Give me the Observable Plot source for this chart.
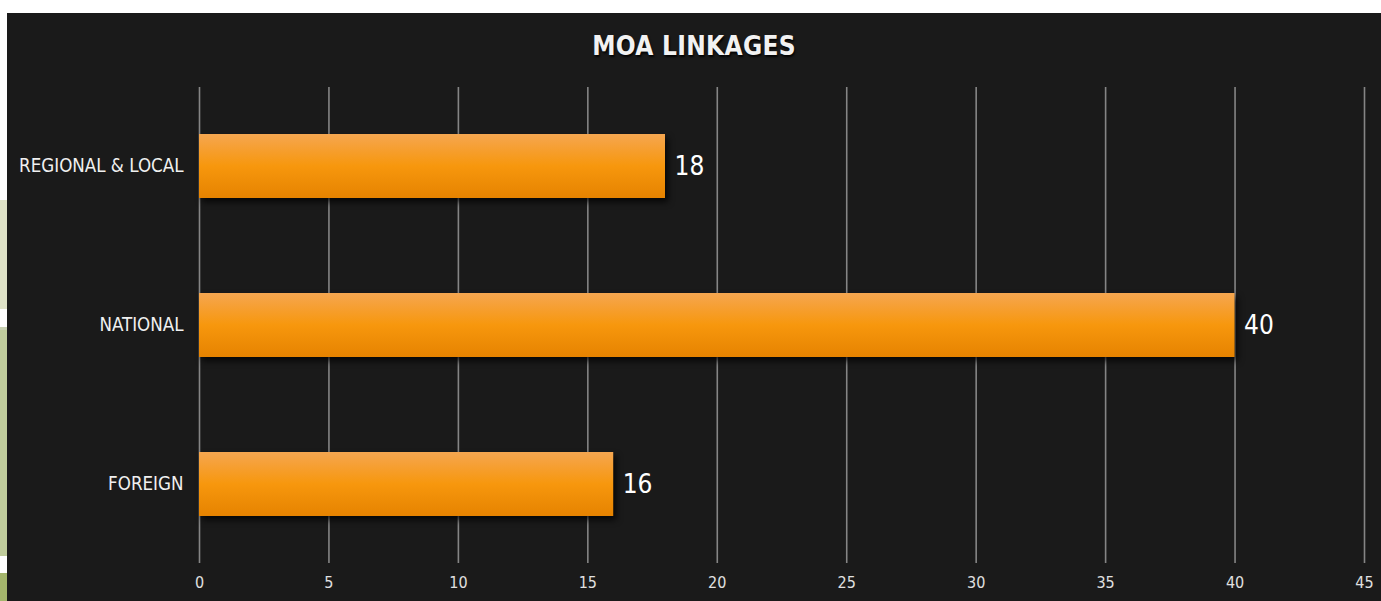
<!DOCTYPE html>
<html>
<head>
<meta charset="utf-8">
<script src="https://cdn.jsdelivr.net/npm/d3@7"></script>
<script src="https://cdn.jsdelivr.net/npm/@observablehq/plot@0.6"></script>
<style>
  html, body { margin: 0; padding: 0; background: #ffffff; width: 1381px; height: 601px; overflow: hidden; }
  .strip { position: absolute; left: 0; width: 7px; }
  #panel { position: absolute; left: 7px; top: 13px; width: 1374px; height: 588px; background: #1a1a1a; }
  #title { height: 60px; line-height: 66px; text-align: center; color: #f2f2f2;
           font-family: "Liberation Sans Narrow", "DejaVu Sans Condensed", sans-serif;
           font-weight: bold; font-size: 26px; letter-spacing: 0.3px;
           text-shadow: 1px 2px 2px rgba(0,0,0,0.9); }
  #chart svg { display: block; }
</style>
</head>
<body>
<div class="strip" style="top:200px;height:109px;background:#dfe3c8"></div>
<div class="strip" style="top:327px;height:3px;background:#c9d1b2"></div>
<div class="strip" style="top:330px;height:226px;background:#c0cc9c"></div>
<div class="strip" style="top:573px;height:28px;background:#a4b56c"></div>
<div id="panel">
  <div id="title">MOA LINKAGES</div>
  <div id="chart"></div>
</div>
<script>
const categories = ["REGIONAL & LOCAL", "NATIONAL", "FOREIGN"];
const values = [18, 40, 16];
const xTicks = [0, 5, 10, 15, 20, 25, 30, 35, 40, 45];

const data = categories.map((c, i) => ({category: c, value: values[i]}));
const font = '"Liberation Sans Narrow", "DejaVu Sans Condensed", sans-serif';

const chart = Plot.plot({
  width: 1374,
  height: 528,
  marginTop: 14,
  marginBottom: 38,
  marginLeft: 192,
  marginRight: 17,
  style: {background: "transparent", color: "#e6e6e6", fontFamily: font},
  x: {domain: [0, 45], ticks: xTicks, label: null},
  y: {domain: categories, paddingInner: 0.595, paddingOuter: 0.29, label: null},
  marks: [
    Plot.gridX(xTicks, {stroke: "#858585", strokeOpacity: 1, strokeWidth: 1.6}),
    Plot.barX(data, {x: "value", y: "category", fill: "url(#barGrad)"}),
    Plot.text(data, {
      x: "value", y: "category", text: d => String(d.value),
      dx: 9, textAnchor: "start", fontSize: 26, fill: "#ffffff", fontFamily: font
    }),
    Plot.axisX({ticks: xTicks, tickSize: 0, tickPadding: 13, fontSize: 16, fill: "#e0e0e0", label: null}),
    Plot.axisY({tickSize: 0, tickPadding: 16, fontSize: 18.6, fill: "#f0f0f0", label: null})
  ]
});

const svg = d3.select(chart);
const defs = svg.insert("defs", ":first-child");
const grad = defs.append("linearGradient")
  .attr("id", "barGrad").attr("x1", 0).attr("y1", 0).attr("x2", 0).attr("y2", 1);
grad.append("stop").attr("offset", "0%").attr("stop-color", "#f5a650");
grad.append("stop").attr("offset", "50%").attr("stop-color", "#f7970d");
grad.append("stop").attr("offset", "100%").attr("stop-color", "#e68300");
svg.selectAll("g[aria-label='bar'] rect").style("filter", "drop-shadow(3px 4px 3px rgba(0,0,0,0.75))");

document.getElementById("chart").appendChild(chart);
</script>
</body>
</html>
